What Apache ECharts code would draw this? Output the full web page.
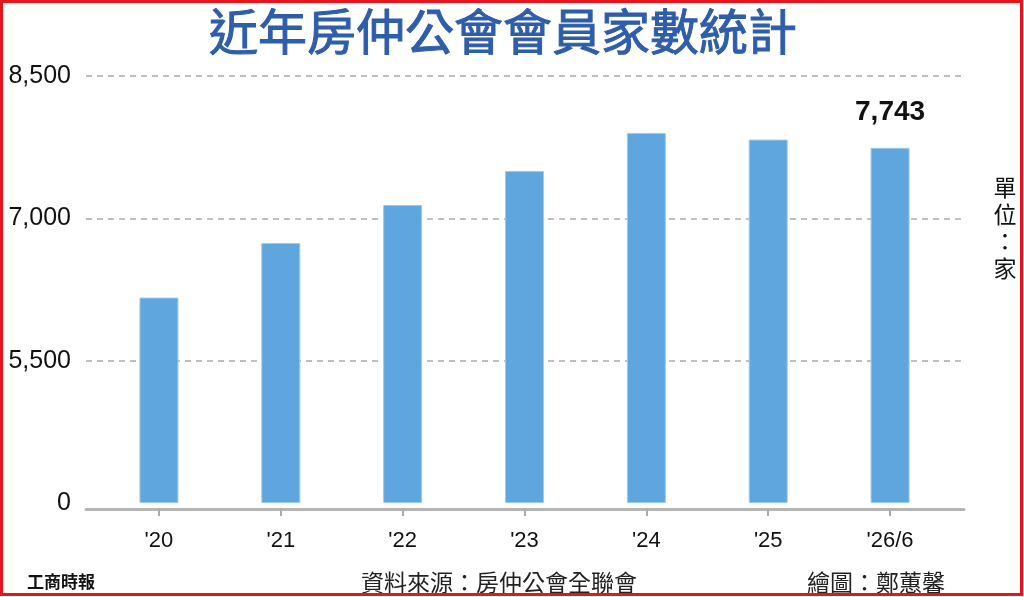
<!DOCTYPE html>
<html>
<head>
<meta charset="utf-8">
<script src="https://cdn.jsdelivr.net/npm/echarts@6/dist/echarts.min.js"></script>
<style>
html,body{margin:0;padding:0;background:#fff;}
#chart{width:1024px;height:597px;}
</style>
</head>
<body>
<div id="chart"></div>
<script>
// ---- data ----
const categories = ["'20", "'21", "'22", "'23", "'24", "'25", "'26/6"];
const members = [6165, 6740, 7140, 7500, 7900, 7830, 7743];
// broken axis: bottom of the axis (labelled 0) corresponds to 4,000
const axisBase = 4000;
const axisTop = 8500;
const axisStep = 1500;
const titleText = '近年房仲公會會員家數統計';
const unitText = '單位：家';
const sourceText = '資料來源：房仲公會全聯會';
const creditText = '繪圖：鄭蕙馨';
const logoText = '工商時報';

const fmt = v => v.toLocaleString('en-US');
const plotted = members.map((v, i) => {
  const item = { value: v - axisBase };
  if (i === members.length - 1) {
    item.label = { show: true };
  }
  return item;
});

const chart = echarts.init(document.getElementById('chart'));
const latin = 'Liberation Sans, Arial, sans-serif';
const cjk = 'Noto Sans CJK TC, sans-serif';

chart.setOption({
  backgroundColor: '#ffffff',
  animation: false,
  grid: [
    { left: 98, right: 73, top: 76, bottom: 94 },
    { left: 86, right: 60, top: 76, bottom: 94 }
  ],
  xAxis: [
    {
      gridIndex: 0, type: 'category', data: categories, offset: 6,
      axisLine: { show: false, onZero: false },
      axisTick: { show: true, alignWithLabel: true, length: 7, lineStyle: { color: '#aaaaaa', width: 2 } },
      axisLabel: { fontSize: 22, color: '#111', margin: 21, fontFamily: 'Liberation Sans Narrow, Arial Narrow, sans-serif' }
    },
    {
      gridIndex: 1, type: 'value', min: 0, max: 1, offset: 6,
      axisLine: { show: true, onZero: false, lineStyle: { color: '#b5b5b5', width: 3 } },
      axisTick: { show: false }, axisLabel: { show: false }, splitLine: { show: false }
    }
  ],
  yAxis: [
    {
      gridIndex: 0, type: 'value', min: 0, max: axisTop - axisBase, interval: axisStep,
      axisLine: { show: false }, axisTick: { show: false }, axisLabel: { show: false }, splitLine: { show: false }
    },
    {
      gridIndex: 1, type: 'value', min: 0, max: axisTop - axisBase, interval: axisStep,
      axisLine: { show: false }, axisTick: { show: false },
      axisLabel: {
        fontSize: 25, color: '#111', margin: 15, fontFamily: latin,
        formatter: v => v === 0 ? '0' : fmt(v + axisBase)
      },
      splitLine: { show: true, showMinLine: false, lineStyle: { color: '#aaaaaa', width: 1.5, type: [6, 5] } },
      z: 0
    }
  ],
  series: [
    {
      type: 'bar', xAxisIndex: 0, yAxisIndex: 0,
      data: plotted, barWidth: 39,
      itemStyle: { color: '#5fa6de', borderColor: '#9ccbee', borderWidth: 1 },
      label: {
        show: false, position: 'top', distance: 22,
        fontSize: 28, fontWeight: 'bold', color: '#111', fontFamily: latin,
        formatter: p => fmt(p.value + axisBase)
      },
      z: 5
    }
  ],
  graphic: [
    {
      type: 'text', x: 503, y: 31,
      style: { text: titleText, fontSize: 49, fill: '#2e5da9', stroke: '#2e5da9', lineWidth: 1, fontFamily: cjk, fontWeight: 'normal', align: 'center', verticalAlign: 'middle' }
    },
    {
      type: 'text', x: 1005, y: 228,
      style: { text: unitText.split('').join('\n'), fontSize: 23, lineHeight: 27, fill: '#111', fontFamily: cjk, align: 'center', verticalAlign: 'middle' }
    },
    {
      type: 'text', x: 27, y: 582,
      style: { text: logoText, fontSize: 17, fontWeight: 'bold', fill: '#111', fontFamily: cjk, align: 'left', verticalAlign: 'middle' }
    },
    {
      type: 'text', x: 499, y: 582,
      style: { text: sourceText, fontSize: 23, fill: '#222', fontFamily: cjk, align: 'center', verticalAlign: 'middle' }
    },
    {
      type: 'text', x: 945, y: 582,
      style: { text: creditText, fontSize: 23, fill: '#222', fontFamily: cjk, align: 'right', verticalAlign: 'middle' }
    },
    {
      type: 'rect', shape: { x: 1.5, y: 1.5, width: 1020, height: 593 },
      style: { fill: 'none', stroke: '#e8141b', lineWidth: 3 }, z: 100
    }
  ]
});
</script>
</body>
</html>
